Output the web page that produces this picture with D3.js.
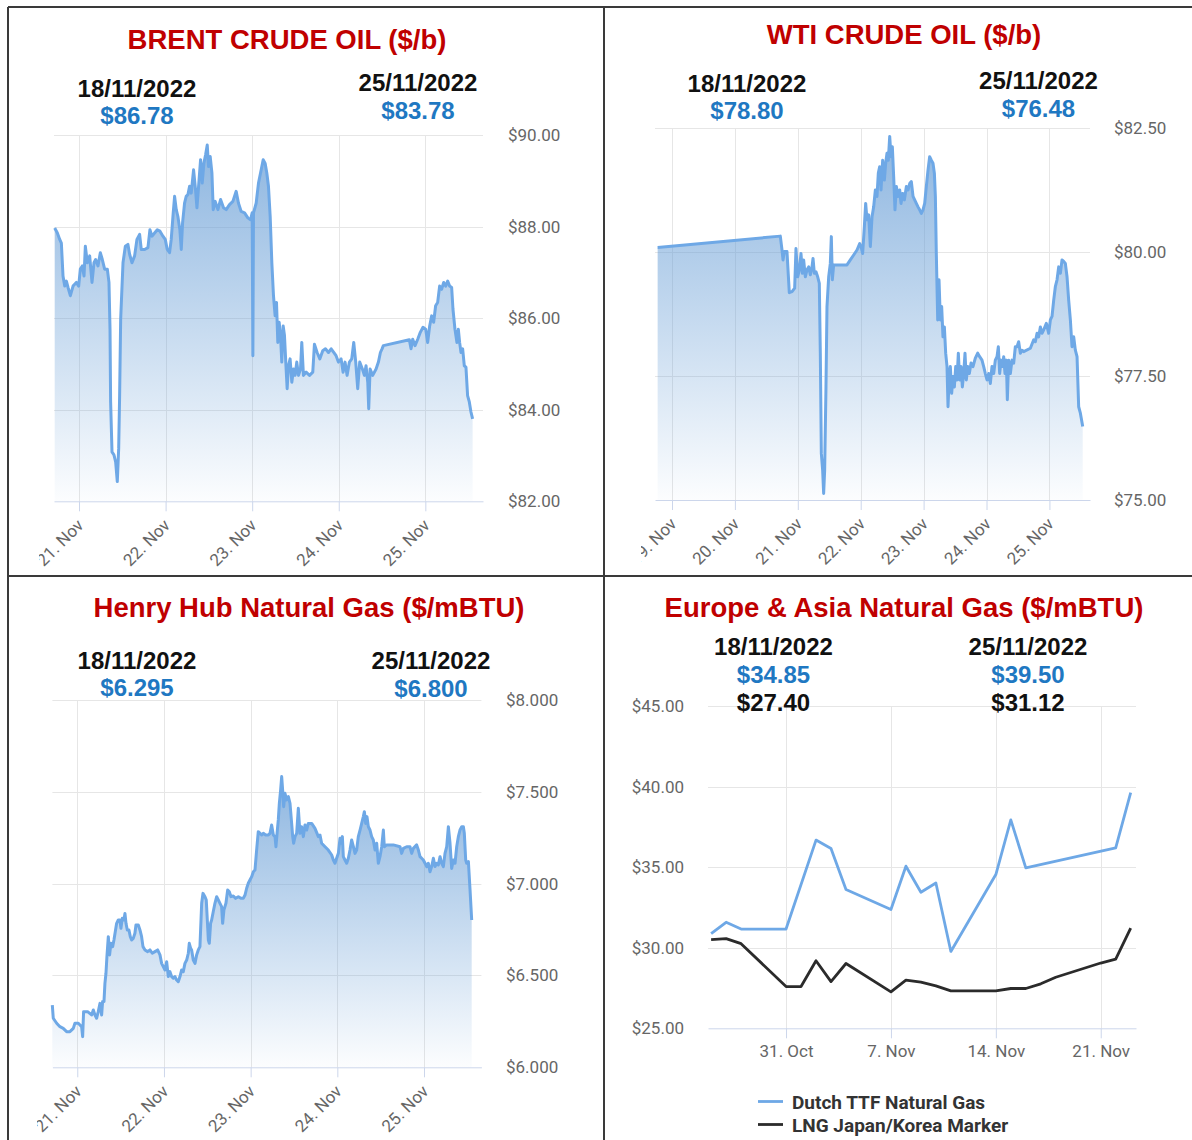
<!DOCTYPE html>
<html>
<head>
<meta charset="utf-8">
<script src="https://cdn.jsdelivr.net/npm/d3@7"></script>
<style>
  body { margin: 0; background: #fff; }
  svg { display: block; }
</style>
</head>
<body>
<script>
// ---- data ----
// intraday series: [day of November 2022 (fractional, UTC), price]
var brentSeries = [
  [20.719,87.97],[20.750,87.86],[20.777,87.72],[20.796,87.64],[20.815,86.92],[20.835,86.70],[20.854,86.81],
  [20.873,86.67],[20.900,86.49],[20.931,86.70],[20.969,86.78],[20.996,86.70],[21.015,87.07],[21.038,87.14],
  [21.058,86.92],[21.073,87.57],[21.096,87.21],[21.123,87.36],[21.150,86.78],[21.173,87.21],[21.192,87.28],
  [21.219,87.14],[21.246,87.43],[21.269,87.28],[21.296,87.07],[21.327,87.07],[21.346,86.78],[21.358,85.76],
  [21.365,84.17],[21.381,83.08],[21.404,83.01],[21.423,82.86],[21.442,82.43],[21.458,83.15],[21.469,84.31],
  [21.481,85.98],[21.508,87.21],[21.535,87.57],[21.565,87.61],[21.585,87.39],[21.612,87.21],[21.642,87.36],
  [21.669,87.72],[21.700,87.83],[21.719,87.50],[21.758,87.50],[21.796,87.54],[21.819,87.93],[21.842,87.79],
  [21.873,87.86],[21.904,87.93],[21.935,87.90],[21.969,87.79],[21.996,87.72],[22.019,87.50],[22.046,87.43],
  [22.065,87.72],[22.088,88.30],[22.104,88.66],[22.123,88.37],[22.142,88.22],[22.165,87.93],[22.181,87.50],
  [22.196,88.08],[22.219,88.51],[22.238,88.66],[22.258,88.70],[22.277,88.88],[22.296,88.73],[22.323,89.24],
  [22.346,88.80],[22.362,88.41],[22.381,88.88],[22.404,89.46],[22.423,88.95],[22.442,89.38],[22.462,89.57],
  [22.481,89.78],[22.496,89.31],[22.515,89.53],[22.535,89.17],[22.550,88.37],[22.573,88.55],[22.604,88.37],
  [22.635,88.59],[22.669,88.41],[22.700,88.37],[22.738,88.48],[22.777,88.55],[22.815,88.77],[22.842,88.51],
  [22.873,88.33],[22.912,88.30],[22.950,88.19],[22.981,88.15],[23.000,88.30],[23.008,85.18],[23.015,88.30],
  [23.046,88.51],[23.073,88.95],[23.104,89.24],[23.127,89.46],[23.150,89.38],[23.169,89.17],[23.188,88.88],
  [23.208,88.22],[23.227,87.21],[23.246,86.49],[23.265,86.05],[23.281,86.34],[23.296,85.47],[23.312,85.91],
  [23.327,85.62],[23.342,85.04],[23.358,85.83],[23.373,85.62],[23.388,85.04],[23.404,84.46],[23.419,84.96],
  [23.438,85.11],[23.458,84.60],[23.477,84.89],[23.496,84.75],[23.515,85.04],[23.535,84.75],[23.558,84.89],
  [23.573,85.47],[23.592,84.75],[23.623,84.82],[23.662,84.75],[23.700,84.82],[23.719,85.43],[23.750,85.25],
  [23.781,85.11],[23.815,85.29],[23.846,85.33],[23.881,85.25],[23.912,85.33],[23.942,85.25],[23.969,85.18],
  [23.996,85.04],[24.027,85.11],[24.050,84.82],[24.073,85.04],[24.096,84.75],[24.123,85.04],[24.150,85.11],
  [24.173,85.47],[24.196,85.04],[24.219,84.46],[24.242,85.04],[24.273,84.89],[24.296,84.75],[24.315,84.96],
  [24.335,84.60],[24.346,84.02],[24.362,84.89],[24.392,84.75],[24.431,84.89],[24.458,85.04],[24.481,85.25],
  [24.500,85.33],[24.515,85.40],[24.815,85.53],[24.835,85.33],[24.854,85.54],[24.881,85.40],[24.912,85.54],
  [24.942,85.69],[24.973,85.80],[25.004,85.76],[25.027,85.47],[25.050,85.83],[25.073,86.05],[25.096,85.91],
  [25.119,86.27],[25.142,86.34],[25.165,86.70],[25.188,86.63],[25.212,86.78],[25.235,86.70],[25.258,86.81],
  [25.281,86.70],[25.304,86.67],[25.319,86.20],[25.342,85.76],[25.365,85.47],[25.381,85.76],[25.396,85.47],
  [25.412,85.25],[25.431,85.33],[25.450,84.96],[25.469,84.93],[25.488,84.31],[25.508,84.17],[25.527,83.95],
  [25.546,83.80]
];

var wtiSeries = [
  [18.772,80.09],[20.722,80.32],[20.749,80.04],[20.765,79.84],[20.786,80.01],[20.828,80.01],[20.865,79.18],
  [20.908,79.20],[20.950,79.27],[20.971,80.07],[20.998,79.50],[21.024,79.64],[21.051,79.97],[21.072,79.57],
  [21.093,79.84],[21.120,79.50],[21.146,79.64],[21.173,79.70],[21.199,79.54],[21.226,79.70],[21.242,79.87],
  [21.263,79.57],[21.289,79.60],[21.316,79.50],[21.342,79.37],[21.358,77.96],[21.374,75.94],[21.395,75.60],
  [21.411,75.13],[21.427,75.60],[21.448,77.28],[21.464,78.90],[21.491,79.50],[21.517,79.77],[21.533,80.31],
  [21.549,79.44],[21.570,79.74],[21.782,79.74],[21.835,79.84],[21.888,79.94],[21.941,80.04],[21.984,80.17],
  [22.005,80.11],[22.031,79.97],[22.058,80.51],[22.079,80.98],[22.100,80.65],[22.127,80.75],[22.153,80.11],
  [22.180,80.71],[22.206,80.91],[22.233,81.25],[22.259,81.12],[22.280,81.59],[22.302,81.72],[22.323,81.25],
  [22.349,81.85],[22.376,81.45],[22.397,81.79],[22.418,81.99],[22.439,81.85],[22.461,82.33],[22.482,81.92],
  [22.503,82.12],[22.524,81.52],[22.545,80.85],[22.567,81.32],[22.593,81.12],[22.620,81.25],[22.641,80.98],
  [22.667,81.18],[22.694,81.05],[22.726,81.32],[22.752,81.25],[22.779,81.38],[22.805,81.42],[22.832,81.12],
  [22.858,81.05],[22.884,80.98],[22.911,80.91],[22.937,80.85],[22.964,80.78],[22.990,80.85],[23.017,80.98],
  [23.043,81.32],[23.070,81.65],[23.096,81.92],[23.123,81.85],[23.149,81.79],[23.171,81.59],[23.187,81.12],
  [23.202,79.97],[23.224,78.63],[23.245,79.44],[23.266,78.63],[23.287,78.90],[23.308,78.29],[23.330,78.49],
  [23.351,77.96],[23.372,77.69],[23.388,76.88],[23.409,77.55],[23.425,77.69],[23.446,77.15],[23.467,77.49],
  [23.489,77.28],[23.510,77.69],[23.531,77.42],[23.552,77.96],[23.573,77.42],[23.595,77.69],[23.616,77.28],
  [23.637,77.55],[23.658,77.96],[23.679,77.42],[23.701,77.69],[23.727,77.55],[23.754,77.76],[23.785,77.69],
  [23.822,77.86],[23.860,77.96],[23.891,77.89],[23.928,77.82],[23.955,77.69],[23.981,77.55],[24.008,77.42],
  [24.034,77.55],[24.061,77.35],[24.087,77.69],[24.114,77.55],[24.140,77.82],[24.167,77.89],[24.188,78.09],
  [24.209,77.55],[24.231,77.82],[24.252,77.69],[24.273,77.89],[24.294,77.55],[24.315,77.82],[24.331,77.02],
  [24.352,77.82],[24.379,77.55],[24.405,77.82],[24.432,77.76],[24.458,78.09],[24.485,78.09],[24.511,78.19],
  [24.538,77.96],[24.564,78.02],[24.591,77.99],[24.697,78.06],[24.750,78.23],[24.776,78.19],[24.803,78.36],
  [24.829,78.29],[24.856,78.49],[24.882,78.36],[24.909,78.43],[24.951,78.56],[24.988,78.36],[25.015,78.63],
  [25.041,78.70],[25.068,79.03],[25.094,79.30],[25.121,79.44],[25.147,79.70],[25.174,79.57],[25.200,79.84],
  [25.227,79.81],[25.253,79.77],[25.280,79.50],[25.306,79.03],[25.333,78.63],[25.359,78.09],[25.386,78.29],
  [25.412,78.02],[25.439,77.89],[25.465,76.88],[25.492,76.75],[25.529,76.48]
];

var henrySeries = [
  [20.712,6.339],[20.723,6.267],[20.762,6.240],[20.800,6.221],[20.838,6.212],[20.877,6.194],[20.915,6.194],
  [20.954,6.212],[20.973,6.240],[21.012,6.240],[21.050,6.221],[21.062,6.167],[21.073,6.303],[21.119,6.303],
  [21.165,6.285],[21.185,6.312],[21.204,6.285],[21.223,6.267],[21.242,6.303],[21.262,6.348],[21.281,6.285],
  [21.292,6.358],[21.308,6.358],[21.319,6.457],[21.331,6.512],[21.342,6.603],[21.358,6.711],[21.373,6.612],
  [21.388,6.675],[21.408,6.657],[21.423,6.693],[21.454,6.784],[21.473,6.802],[21.492,6.802],[21.504,6.757],
  [21.519,6.811],[21.538,6.802],[21.550,6.838],[21.562,6.784],[21.577,6.748],[21.596,6.748],[21.612,6.711],
  [21.627,6.693],[21.646,6.702],[21.665,6.730],[21.677,6.775],[21.704,6.775],[21.723,6.748],[21.742,6.711],
  [21.758,6.657],[21.781,6.639],[21.812,6.630],[21.838,6.639],[21.865,6.621],[21.896,6.630],[21.927,6.639],
  [21.954,6.612],[21.973,6.566],[21.992,6.548],[22.012,6.530],[22.031,6.575],[22.050,6.494],[22.069,6.521],
  [22.088,6.494],[22.108,6.485],[22.127,6.494],[22.146,6.475],[22.165,6.466],[22.185,6.494],[22.204,6.530],
  [22.223,6.521],[22.242,6.566],[22.262,6.584],[22.281,6.621],[22.292,6.675],[22.308,6.648],[22.319,6.639],
  [22.338,6.584],[22.358,6.566],[22.377,6.612],[22.396,6.639],[22.415,6.657],[22.435,6.893],[22.450,6.947],
  [22.473,6.929],[22.488,6.911],[22.512,6.693],[22.523,6.675],[22.538,6.784],[22.550,6.802],[22.569,6.848],
  [22.588,6.893],[22.608,6.929],[22.627,6.911],[22.646,6.893],[22.665,6.875],[22.677,6.784],[22.692,6.857],
  [22.715,6.893],[22.735,6.966],[22.754,6.956],[22.773,6.929],[22.800,6.933],[22.827,6.920],[22.858,6.929],
  [22.888,6.920],[22.915,6.920],[22.935,6.938],[22.954,6.975],[22.973,7.002],[22.992,7.020],[23.012,7.038],
  [23.031,7.065],[23.050,7.074],[23.069,7.183],[23.088,7.283],[23.108,7.274],[23.127,7.265],[23.146,7.274],
  [23.173,7.265],[23.204,7.265],[23.223,7.274],[23.242,7.319],[23.262,7.265],[23.281,7.256],[23.292,7.201],
  [23.308,7.292],[23.319,7.347],[23.331,7.437],[23.346,7.510],[23.358,7.583],[23.369,7.510],[23.381,7.419],
  [23.396,7.492],[23.415,7.456],[23.435,7.474],[23.454,7.437],[23.473,7.328],[23.485,7.256],[23.496,7.220],
  [23.512,7.256],[23.531,7.274],[23.550,7.410],[23.569,7.274],[23.588,7.310],[23.608,7.256],[23.627,7.319],
  [23.646,7.292],[23.665,7.328],[23.704,7.328],[23.742,7.301],[23.781,7.256],[23.800,7.265],[23.819,7.220],
  [23.858,7.201],[23.896,7.183],[23.935,7.156],[23.954,7.129],[23.973,7.111],[23.992,7.138],[24.012,7.165],
  [24.031,7.247],[24.042,7.220],[24.058,7.256],[24.069,7.147],[24.088,7.129],[24.108,7.111],[24.127,7.138],
  [24.146,7.183],[24.165,7.238],[24.185,7.201],[24.204,7.165],[24.223,7.183],[24.242,7.256],[24.262,7.292],
  [24.281,7.328],[24.300,7.365],[24.312,7.392],[24.327,7.328],[24.342,7.365],[24.358,7.310],[24.377,7.292],
  [24.396,7.256],[24.415,7.238],[24.435,7.183],[24.454,7.220],[24.473,7.111],[24.492,7.147],[24.512,7.201],
  [24.531,7.292],[24.542,7.201],[24.569,7.211],[24.646,7.211],[24.723,7.201],[24.742,7.165],[24.762,7.192],
  [24.800,7.201],[24.838,7.201],[24.858,7.165],[24.877,7.192],[24.915,7.211],[24.935,7.183],[24.954,7.147],
  [24.973,7.138],[24.992,7.129],[25.012,7.111],[25.031,7.093],[25.050,7.111],[25.069,7.065],[25.088,7.093],
  [25.108,7.138],[25.127,7.093],[25.146,7.111],[25.165,7.102],[25.185,7.147],[25.204,7.111],[25.223,7.093],
  [25.242,7.165],[25.262,7.201],[25.281,7.310],[25.300,7.220],[25.319,7.083],[25.338,7.129],[25.358,7.111],
  [25.377,7.201],[25.396,7.256],[25.415,7.292],[25.435,7.310],[25.454,7.310],[25.465,7.274],[25.481,7.129],
  [25.492,7.111],[25.512,7.120],[25.531,6.966],[25.550,6.802]
];

// daily gas marks (null = no print that day)
var gasDates = ["2022-10-26","2022-10-27","2022-10-28","2022-10-31","2022-11-01","2022-11-02","2022-11-03",
  "2022-11-04","2022-11-07","2022-11-08","2022-11-09","2022-11-10","2022-11-11","2022-11-14","2022-11-15",
  "2022-11-16","2022-11-17","2022-11-18","2022-11-21","2022-11-22","2022-11-23"];
var ttfPrices = [30.87,31.58,31.16,31.16,null,36.68,36.16,33.61,32.37,35.06,33.44,34.02,29.77,34.54,37.93,
  34.96,null,null,null,36.20,39.63];
var lngPrices = [30.50,30.56,30.25,27.59,27.59,29.19,27.90,29.02,27.26,27.99,27.86,27.63,27.32,27.32,27.47,
  27.47,27.76,28.17,29.05,29.29,31.22];

// header figures
var headerDates = ["18/11/2022", "25/11/2022"];
var brentHeader = ["$86.78", "$83.78"];
var wtiHeader = ["$78.80", "$76.48"];
var henryHeader = ["$6.295", "$6.800"];
var ttfHeader = ["$34.85", "$39.50"];
var lngHeader = ["$27.40", "$31.12"];

var brentTicks = [82, 84, 86, 88, 90];
var wtiTicks = [75, 77.5, 80, 82.5];
var henryTicks = [6, 6.5, 7, 7.5, 8];
var gasTicks = [25, 30, 35, 40, 45];
var legendNames = ["Dutch TTF Natural Gas", "LNG Japan/Korea Marker"];

// ---- helpers ----
var novDay = function (d) { return new Date(Date.UTC(2022, 10, 1) + (d - 1) * 864e5); };
var dayFmt = d3.utcFormat("%-d. %b");

var RED = "#c00000", BLUE = "#1f78c2", LINE = "#6ea8e6", GRID = "#e6e6e6", AXIS = "#ccd6eb";
var LABEL_FONT = "Roboto, 'Liberation Sans', sans-serif";
var HEAD_FONT = "'Liberation Sans', Arial, sans-serif";

var svg = d3.select("body").append("svg")
  .attr("width", 1192)
  .attr("height", 1140);

var defs = svg.append("defs");

function addClip(id, x0, y0, x1, y1) {
  defs.append("clipPath").attr("id", id)
    .append("rect").attr("x", x0).attr("y", y0).attr("width", x1 - x0).attr("height", y1 - y0);
}

function headerText(g, txt, x, y, size, color) {
  g.append("text")
    .attr("x", x).attr("y", y)
    .attr("text-anchor", "middle")
    .style("font-family", HEAD_FONT)
    .style("font-weight", "bold")
    .style("font-size", size + "px")
    .style("fill", color)
    .text(txt);
}

// one intraday area chart (Brent, WTI, Henry Hub)
function intradayPanel(o) {
  addClip(o.id + "-clip", o.clip[0], o.clip[1], o.clip[2], o.clip[3]);
  var g = svg.append("g").attr("clip-path", "url(#" + o.id + "-clip)");

  var x = d3.scaleUtc().domain(o.xDomain.map(novDay)).range([o.left, o.right]);
  var y = d3.scaleLinear().domain(o.yDomain).range([o.bottom, o.top]);

  var days = d3.utcDay.range(novDay(Math.ceil(o.xDomain[0])), novDay(o.xDomain[1]));

  // grid
  g.selectAll(".hgrid").data(o.yTicks.slice(1)).enter().append("line")
    .attr("x1", o.left).attr("x2", o.right)
    .attr("y1", function (d) { return Math.round(y(d)) + 0.5; })
    .attr("y2", function (d) { return Math.round(y(d)) + 0.5; })
    .style("stroke", GRID);
  g.selectAll(".vgrid").data(days).enter().append("line")
    .attr("x1", function (d) { return Math.round(x(d)) + 0.5; })
    .attr("x2", function (d) { return Math.round(x(d)) + 0.5; })
    .attr("y1", o.top).attr("y2", o.bottom)
    .style("stroke", GRID);

  // gradient fill
  var grad = defs.append("linearGradient").attr("id", o.id + "-grad")
    .attr("x1", 0).attr("y1", 0).attr("x2", 0).attr("y2", 1);
  grad.append("stop").attr("offset", "0%").attr("stop-color", "rgb(104,158,214)").attr("stop-opacity", 0.75);
  grad.append("stop").attr("offset", "100%").attr("stop-color", "rgb(104,158,214)").attr("stop-opacity", 0.02);

  var area = d3.area()
    .x(function (d) { return x(novDay(d[0])); })
    .y0(o.bottom)
    .y1(function (d) { return y(d[1]); });
  var line = d3.line()
    .x(function (d) { return x(novDay(d[0])); })
    .y(function (d) { return y(d[1]); });

  g.append("path").datum(o.data).attr("d", area).style("fill", "url(#" + o.id + "-grad)");
  g.append("path").datum(o.data).attr("d", line)
    .style("fill", "none").style("stroke", LINE).style("stroke-width", 3)
    .style("stroke-linejoin", "round");

  // x axis
  var xAxis = g.append("g")
    .attr("transform", "translate(0," + o.bottom + ")")
    .call(d3.axisBottom(x).tickValues(days).tickFormat(dayFmt).tickSize(10).tickSizeOuter(0));
  xAxis.select(".domain").style("stroke", AXIS);
  xAxis.selectAll(".tick line").style("stroke", AXIS);
  xAxis.selectAll(".tick text")
    .attr("y", null).attr("dy", null)
    .attr("transform", "translate(5,25) rotate(-45)")
    .attr("text-anchor", "end")
    .style("font-family", LABEL_FONT).style("font-size", "17px").style("fill", "#666");

  // y labels on the right
  var yAxis = g.append("g")
    .attr("transform", "translate(" + (o.labelX - 3) + ",0)")
    .call(d3.axisRight(y).tickValues(o.yTicks).tickSize(0).tickFormat(o.yFmt));
  yAxis.select(".domain").remove();
  yAxis.selectAll("text")
    .style("font-family", LABEL_FONT).style("font-size", "17px").style("fill", "#666");

  // title + header
  headerText(g, o.title, o.titlePos[0], o.titlePos[1], 27.5, RED);
  headerText(g, headerDates[0], o.head[0][0], o.head[0][1], 24, "#111");
  headerText(g, headerDates[1], o.head[1][0], o.head[1][1], 24, "#111");
  headerText(g, o.header[0], o.head[0][0], o.head[0][1] + 27.5, 24, BLUE);
  headerText(g, o.header[1], o.head[1][0], o.head[1][1] + 28, 24, BLUE);
}

var money2 = function (d) { return "$" + d3.format(".2f")(d); };
var money3 = function (d) { return "$" + d3.format(".3f")(d); };

intradayPanel({
  id: "brent", data: brentSeries, clip: [39, 8, 603, 575],
  left: 54, right: 483, top: 135, bottom: 501.3, xDomain: [20.711, 25.666],
  yDomain: [82, 90], yTicks: brentTicks, yFmt: money2, labelX: 508,
  title: "BRENT CRUDE OIL ($/b)", titlePos: [287, 49], header: brentHeader,
  head: [[137, 96.5], [418, 91]]
});

intradayPanel({
  id: "wti", data: wtiSeries, clip: [641, 8, 1192, 575],
  left: 655, right: 1090, top: 128, bottom: 500, xDomain: [18.73, 25.645],
  yDomain: [75, 82.5], yTicks: wtiTicks, yFmt: money2, labelX: 1114,
  title: "WTI CRUDE OIL ($/b)", titlePos: [904, 43.5], header: wtiHeader,
  head: [[747, 91.5], [1038.5, 88.5]]
});

intradayPanel({
  id: "henry", data: henrySeries, clip: [37, 577, 603, 1140],
  left: 52.4, right: 481.4, top: 700, bottom: 1067.3, xDomain: [20.713, 25.662],
  yDomain: [6, 8], yTicks: henryTicks, yFmt: money3, labelX: 506,
  title: "Henry Hub Natural Gas ($/mBTU)", titlePos: [309, 616.5], header: henryHeader,
  head: [[137, 668.5], [431, 668.5]]
});

// ---- Europe & Asia gas panel ----
(function gasPanel() {
  var left = 708, right = 1136, top = 706, bottom = 1028.3;
  var g = svg.append("g");
  var x = d3.scaleUtc()
    .domain([new Date(Date.UTC(2022, 9, 25, 19)), new Date(Date.UTC(2022, 10, 23, 8, 30))])
    .range([left, right]);
  var y = d3.scaleLinear().domain([25, 45]).range([bottom, top]);
  var mondays = d3.utcMonday.range(x.domain()[0], x.domain()[1]);

  g.selectAll(".hgrid").data(gasTicks.slice(1)).enter().append("line")
    .attr("x1", left).attr("x2", right)
    .attr("y1", function (d) { return Math.round(y(d)) + 0.5; })
    .attr("y2", function (d) { return Math.round(y(d)) + 0.5; })
    .style("stroke", GRID);
  g.selectAll(".vgrid").data(mondays).enter().append("line")
    .attr("x1", function (d) { return Math.round(x(d)) + 0.5; })
    .attr("x2", function (d) { return Math.round(x(d)) + 0.5; })
    .attr("y1", top).attr("y2", bottom)
    .style("stroke", GRID);

  var xAxis = g.append("g")
    .attr("transform", "translate(0," + bottom + ")")
    .call(d3.axisBottom(x).tickValues(mondays).tickFormat(dayFmt).tickSize(10).tickSizeOuter(0));
  xAxis.select(".domain").style("stroke", AXIS);
  xAxis.selectAll(".tick line").style("stroke", AXIS);
  xAxis.selectAll(".tick text")
    .attr("y", 29).attr("dy", null)
    .style("font-family", LABEL_FONT).style("font-size", "17px").style("fill", "#666");

  var yAxis = g.append("g")
    .attr("transform", "translate(687,0)")
    .call(d3.axisLeft(y).tickValues(gasTicks).tickSize(0).tickFormat(money2));
  yAxis.select(".domain").remove();
  yAxis.selectAll("text")
    .style("font-family", LABEL_FONT).style("font-size", "17px").style("fill", "#666");

  var series = [
    { name: legendNames[0], values: ttfPrices, color: LINE },
    { name: legendNames[1], values: lngPrices, color: "#2b2b2b" }
  ];
  var line = d3.line()
    .x(function (d) { return x(d[0]); })
    .y(function (d) { return y(d[1]); });

  series.forEach(function (s, i) {
    var pts = gasDates.map(function (dt, j) { return [new Date(dt), s.values[j]]; })
      .filter(function (p) { return p[1] != null; });
    g.append("path").datum(pts).attr("d", line)
      .style("fill", "none").style("stroke", s.color).style("stroke-width", 2.8)
      .style("stroke-linejoin", "round");

    // legend
    var ly = 1101.5 + i * 23;
    g.append("line").attr("x1", 758).attr("x2", 783).attr("y1", ly).attr("y2", ly)
      .style("stroke", s.color).style("stroke-width", 2.8);
    g.append("text").attr("x", 792).attr("y", ly + 7)
      .style("font-family", LABEL_FONT).style("font-weight", "bold")
      .style("font-size", "19px").style("fill", "#333")
      .text(s.name);
  });

  headerText(g, "Europe & Asia Natural Gas ($/mBTU)", 904, 616.5, 27.5, RED);
  headerText(g, headerDates[0], 773.5, 654.5, 24, "#111");
  headerText(g, headerDates[1], 1028, 654.5, 24, "#111");
  headerText(g, ttfHeader[0], 773.5, 682.5, 24, BLUE);
  headerText(g, ttfHeader[1], 1028, 682.5, 24, BLUE);
  headerText(g, lngHeader[0], 773.5, 711, 24, "#111");
  headerText(g, lngHeader[1], 1028, 711, 24, "#111");
})();

// ---- panel frame ----
var frame = [
  [8, 7, 1192, 7], [8, 7, 8, 1140], [604, 7, 604, 1140], [8, 576, 1192, 576]
];
svg.selectAll(".frame").data(frame).enter().append("line")
  .attr("x1", function (d) { return d[0]; }).attr("y1", function (d) { return d[1]; })
  .attr("x2", function (d) { return d[2]; }).attr("y2", function (d) { return d[3]; })
  .style("stroke", "#3a3a3a").style("stroke-width", 2);
</script>
</body>
</html>
